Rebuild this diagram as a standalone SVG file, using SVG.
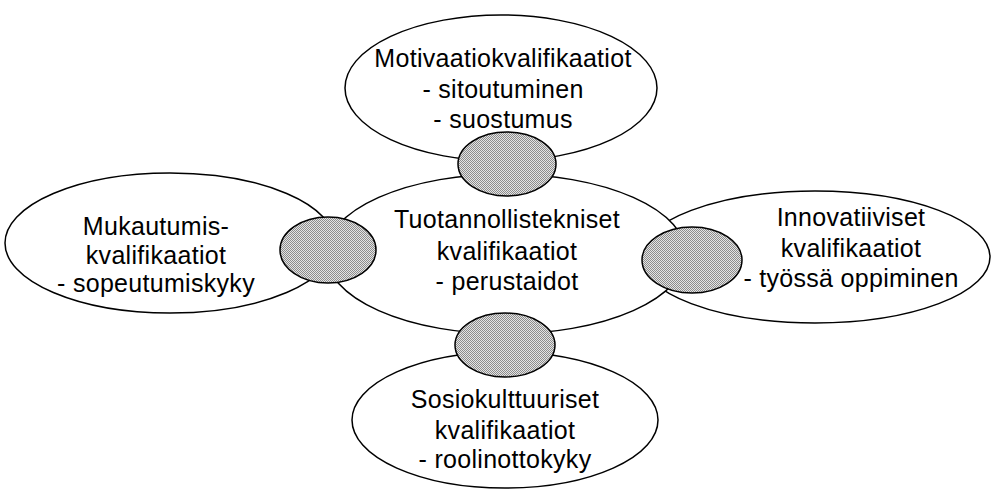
<svg xmlns="http://www.w3.org/2000/svg" width="991" height="490" viewBox="0 0 991 490">
<style>
.node{fill:#fff;stroke:#000;stroke-width:1.5}
.link{fill:url(#dots);stroke:#000;stroke-width:1.5}
text{font-family:"Liberation Sans",Arial,sans-serif;font-size:25px;fill:#000;text-anchor:middle;letter-spacing:0.3px}
</style>
<defs>
<pattern id="dots" width="2" height="2" patternUnits="userSpaceOnUse">
<rect width="2" height="2" fill="#e4e4e4"/>
<rect width="1" height="1" fill="#8c8c8c"/>
<rect x="1" y="1" width="1" height="1" fill="#8c8c8c"/>
</pattern>
</defs>
<g id="top">
<ellipse class="node" cx="501" cy="88" rx="156" ry="73"/>
<text x="503" y="67">Motivaatiokvalifikaatiot</text>
<text x="503" y="98">- sitoutuminen</text>
<text x="503" y="128">- suostumus</text>
</g>
<g id="left">
<ellipse class="node" cx="170" cy="243" rx="165" ry="70"/>
<text x="156" y="235">Mukautumis-</text>
<text x="156" y="264">kvalifikaatiot</text>
<text x="156" y="292">- sopeutumiskyky</text>
</g>
<g id="right">
<ellipse class="node" cx="815" cy="257" rx="175" ry="66"/>
<text x="851" y="226">Innovatiiviset</text>
<text x="851" y="257">kvalifikaatiot</text>
<text x="851" y="287">- työssä oppiminen</text>
</g>
<g id="bottom">
<ellipse class="node" cx="505" cy="420" rx="153" ry="68"/>
<text x="505" y="408">Sosiokulttuuriset</text>
<text x="505" y="439">kvalifikaatiot</text>
<text x="505" y="468">- roolinottokyky</text>
</g>
<g id="center">
<ellipse class="node" cx="506" cy="254" rx="180" ry="80"/>
<text x="507" y="228">Tuotannollistekniset</text>
<text x="507" y="260">kvalifikaatiot</text>
<text x="507" y="290">- perustaidot</text>
</g>
<g id="connectors">
<ellipse class="link" cx="507" cy="164" rx="49" ry="32"/>
<ellipse class="link" cx="328" cy="250" rx="48" ry="33"/>
<ellipse class="link" cx="692" cy="260" rx="50" ry="33"/>
<ellipse class="link" cx="505" cy="345" rx="50" ry="32"/>
</g>
</svg>
